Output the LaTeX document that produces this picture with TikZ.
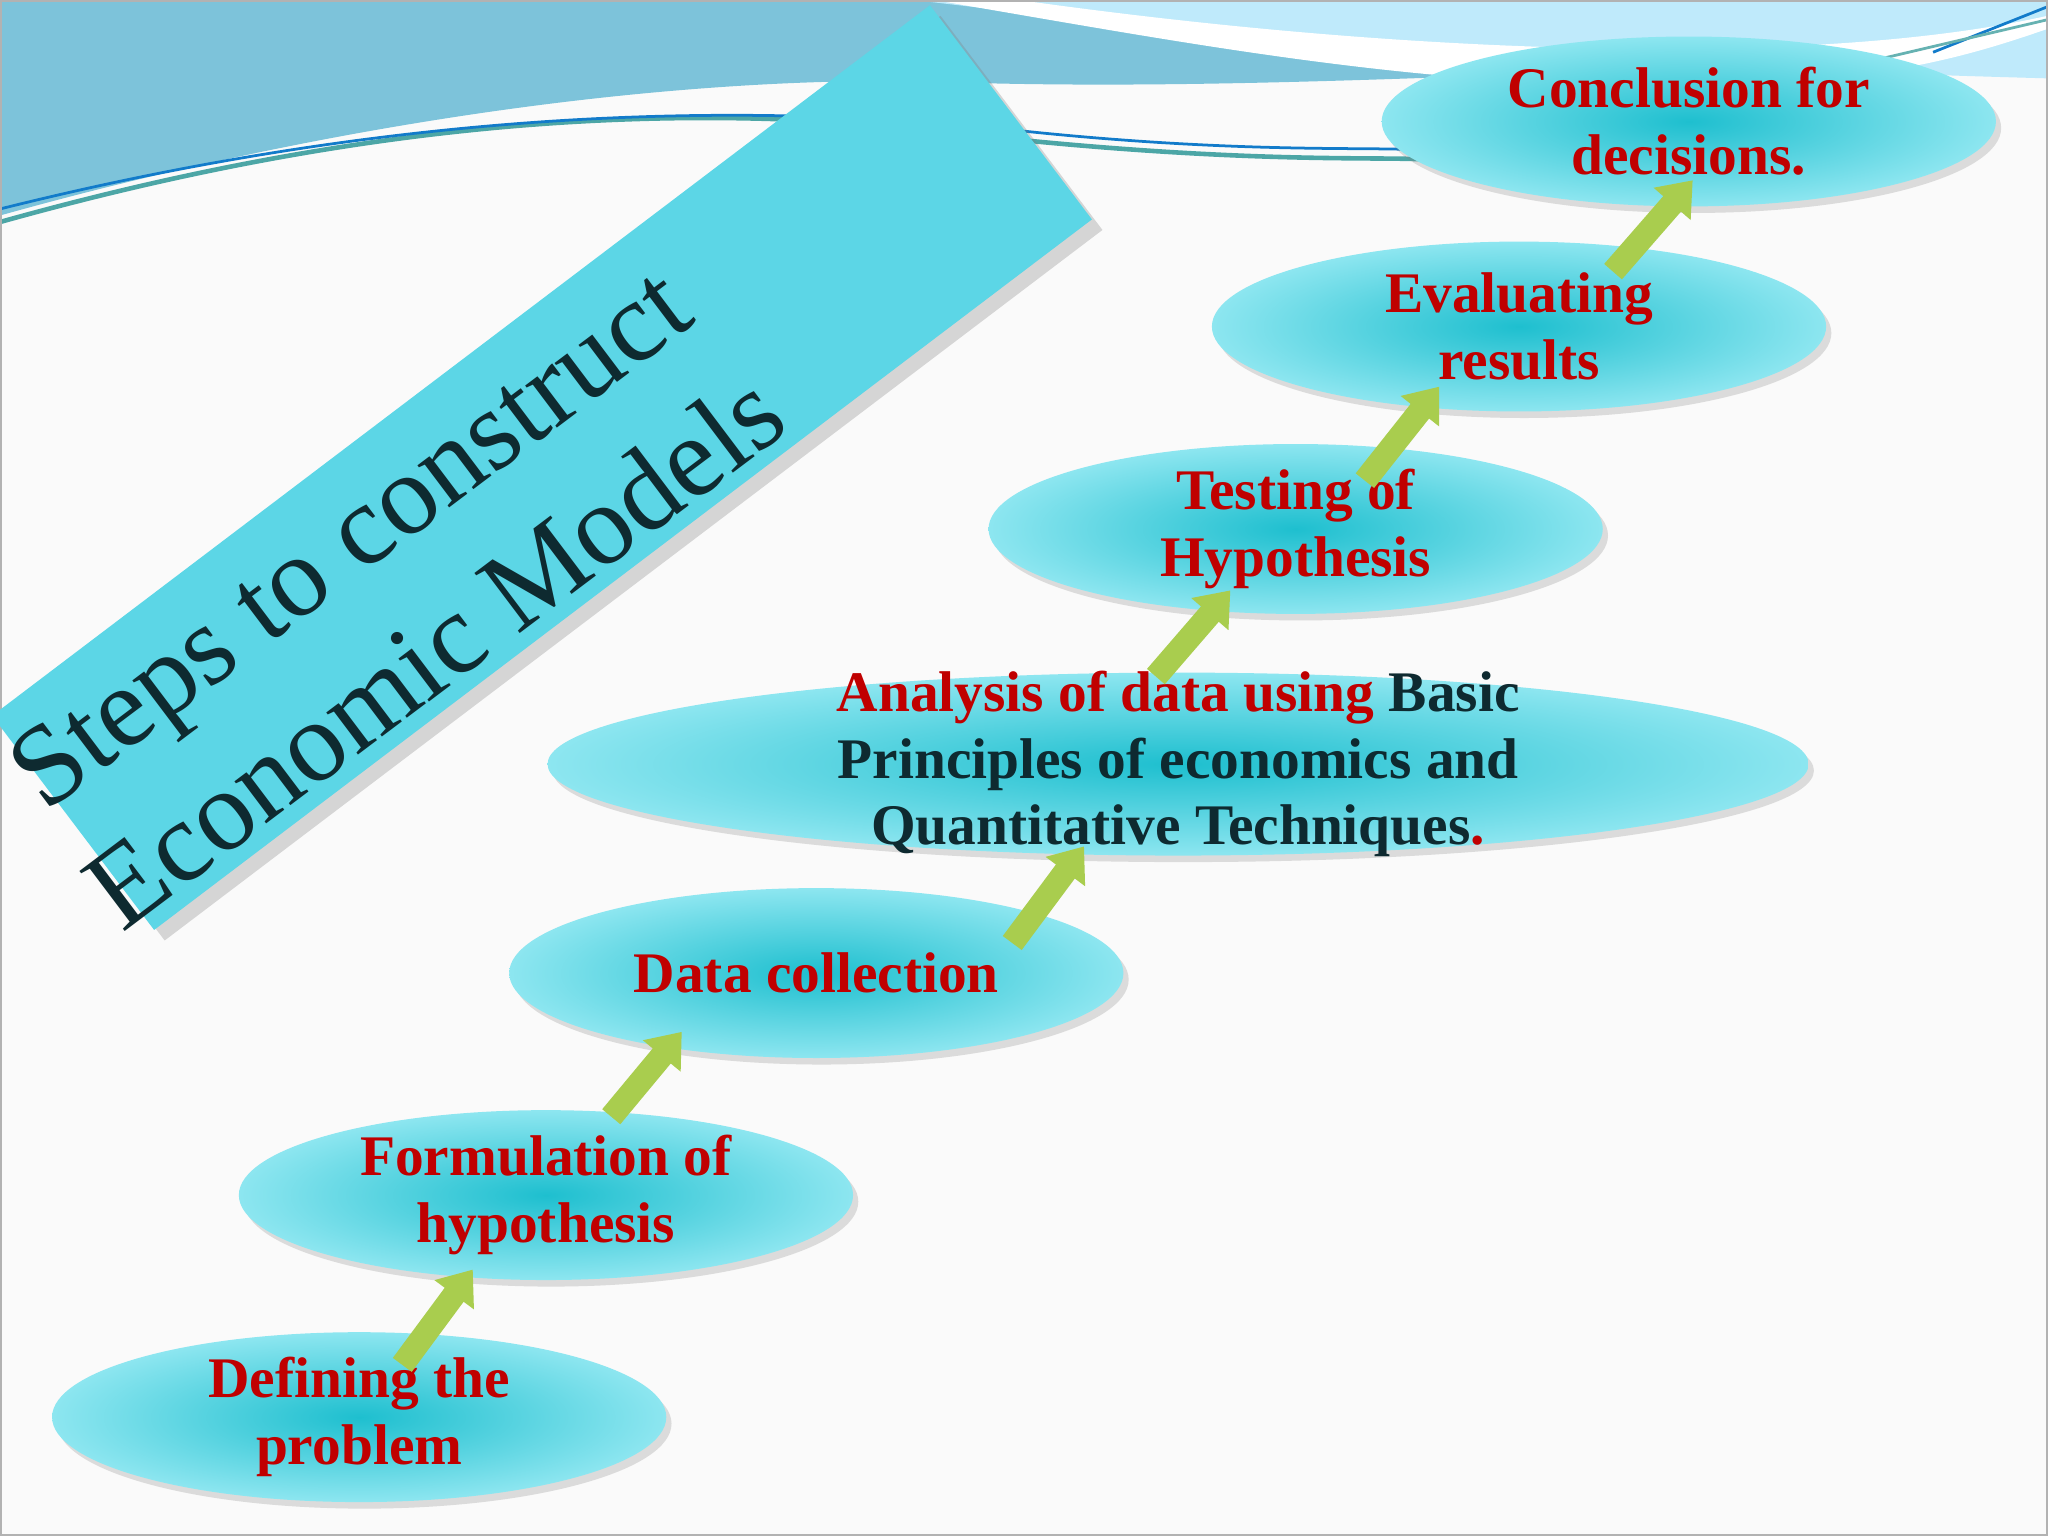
\documentclass[tikz,border=0pt]{standalone}
\usepackage{fontspec}
\setmainfont{Liberation Serif}
\usetikzlibrary{shapes.geometric,arrows.meta,shadows}
\definecolor{myred}{HTML}{C00000}
\definecolor{mydark}{HTML}{0E2A30}
\definecolor{ribbon}{HTML}{A9CD4E}
\definecolor{ellin}{HTML}{1EBFCF}
\definecolor{ellout}{HTML}{8DE6F0}
\definecolor{banner}{HTML}{5CD6E6}
\definecolor{band}{HTML}{7DC3DA}
\begin{document}
\begin{tikzpicture}[x=0.01cm,y=-0.01cm,
  stepnode/.style={ellipse,minimum height=1.3cm,inner sep=0pt,
    inner color=ellin, outer color=ellout,
    draw=none, drop shadow={opacity=0.25,shadow xshift=0.04cm,shadow yshift=-0.05cm},
    font=\fontsize{12.5}{14.5}\selectfont\bfseries, text=myred, align=center},
  ribbonarrow/.style={line width=0.18cm, draw=ribbon,
    -{Triangle[length=0.24cm,width=0.36cm]}}]
\useasboundingbox (0,0) rectangle (1568,1176);
\fill[white!96!gray] (0,0) rectangle (1568,1176);
% top wave band
\fill[band] (0,0) -- (0,165) .. controls (250,95) and (500,60) .. (700,62) .. controls (900,70) and (1100,60) .. (1568,40) -- (1568,0) -- cycle;
\fill[cyan!25!white] (700,0) .. controls (950,30) and (1200,50) .. (1568,60) -- (1568,0) -- cycle;
\fill[white] (715,0) .. controls (950,40) and (1150,80) .. (1400,60) .. controls (1480,52) and (1530,35) .. (1568,22) -- (1568,12) .. controls (1400,50) and (1100,45) .. (780,0) -- cycle;
\draw[teal!70, line width=1pt] (0,170) .. controls (250,100) and (500,70) .. (760,105) .. controls (950,125) and (1050,120) .. (1090,122);
\draw[cyan!60!blue, line width=0.6pt] (0,160) .. controls (260,95) and (520,72) .. (780,100) .. controls (950,118) and (1050,112) .. (1090,115);
\draw[cyan!60!blue, line width=0.6pt] (1480,40) -- (1568,5);
\draw[teal!60, line width=0.6pt] (1440,45) -- (1568,15);
\draw[gray!60, line width=0.8pt] (0.5,0.5) rectangle (1567.5,1175.5);
% title banner
\fill[banner, drop shadow={opacity=0.3}] (712,4) -- (836,168) -- (118,712) -- (-6,548) -- cycle;
\node[rotate=37, text=mydark, font=\fontsize{25}{31}\selectfont, align=center] (title) at (300,455) {Steps to construct\\Economic Models};
% steps
\node[stepnode, minimum width=4.7cm] (s1) at (275,1085) {Defining the\\problem};
\node[stepnode, minimum width=4.7cm] (s2) at (418,915) {Formulation of\\hypothesis};
\node[stepnode, minimum width=4.7cm] (s3) at (625,745) {Data collection};
\node[stepnode, minimum width=9.65cm, minimum height=1.4cm, inner sep=-0.32cm] (s4) at (902,585) {Analysis of data using \textcolor{mydark}{Basic}\\\textcolor{mydark}{Principles of economics and}\\\textcolor{mydark}{Quantitative Techniques}.};
\node[stepnode, minimum width=4.7cm] (s5) at (992,405) {Testing of\\Hypothesis};
\node[stepnode, minimum width=4.7cm] (s6) at (1163,250) {Evaluating\\results};
\node[stepnode, minimum width=4.7cm] (s7) at (1293,93) {Conclusion for\\decisions.};
% ribbon arrows
\coordinate (a1s) at (308,1045); \coordinate (a1e) at (362,972);
\coordinate (a2s) at (468,855); \coordinate (a2e) at (522,790);
\coordinate (a3s) at (775,722); \coordinate (a3e) at (830,648);
\coordinate (a4s) at (885,518); \coordinate (a4e) at (942,452);
\coordinate (a5s) at (1045,368); \coordinate (a5e) at (1102,296);
\coordinate (a6s) at (1235,208); \coordinate (a6e) at (1296,138);
\foreach \i in {1,...,6} \draw[ribbonarrow] (a\i s) -- (a\i e);
\end{tikzpicture}
\end{document}
